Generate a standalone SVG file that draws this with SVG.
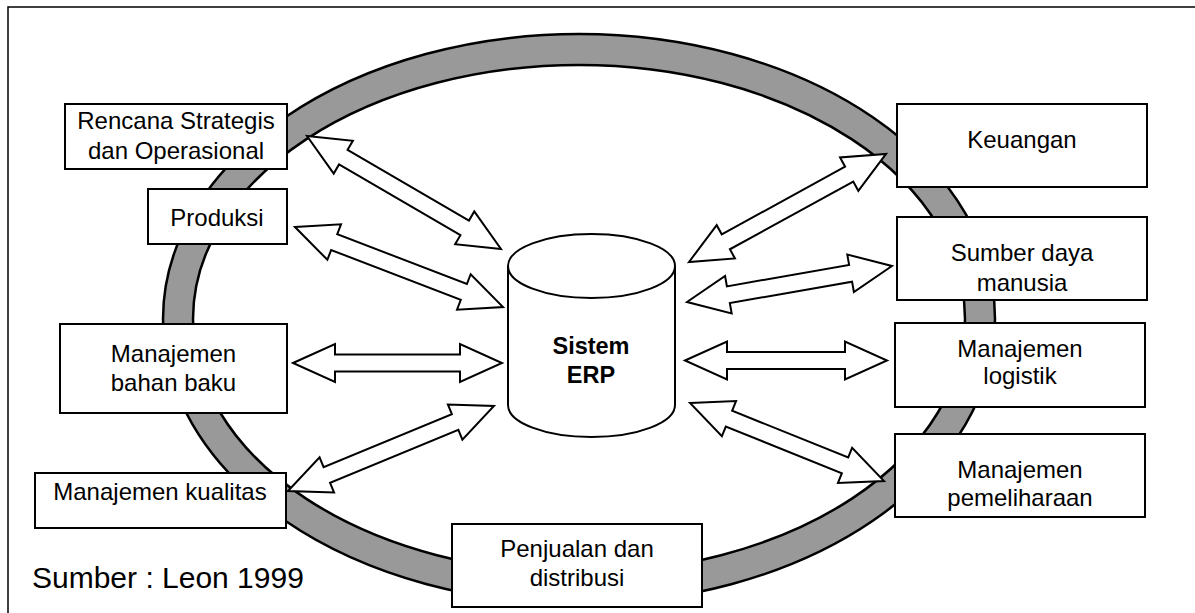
<svg xmlns="http://www.w3.org/2000/svg" width="1195" height="613" viewBox="0 0 1195 613">
  <style>
    .frame { fill: none; stroke: #000; stroke-width: 1.5; }
    .ring-outer { fill: #999999; stroke: #000; stroke-width: 2.5; }
    .ring-inner { fill: #fff; stroke: #000; stroke-width: 2.5; }
    .arrow { fill: #fff; stroke: #000; stroke-width: 2; stroke-linejoin: miter; }
    .box { fill: #fff; stroke: #000; stroke-width: 2; }
    .db { fill: #fff; stroke: #000; stroke-width: 2; }
    .label { font-family: "Liberation Sans", Arial, sans-serif; font-size: 24px; fill: #000; text-anchor: middle; }
    .bold { font-weight: bold; font-size: 23.5px; }
    .source { font-family: "Liberation Sans", Arial, sans-serif; font-size: 30px; fill: #000; }
  </style>

  <!-- outer frame (continues past the right and bottom edges) -->
  <rect class="frame" x="8" y="7" width="1200" height="620"/>

  <!-- business process ring -->
  <g id="ring">
    <ellipse class="ring-outer" cx="579" cy="319" rx="416" ry="285"/>
    <ellipse class="ring-inner" cx="579" cy="319" rx="386" ry="254"/>
  </g>

  <!-- two-way block arrows between the modules and the ERP core -->
  <g id="connectors">
    <polygon class="arrow" transform="translate(307,136) rotate(30.22)" points="0,0 42,-19 42,-8.5 182.5,-8.5 182.5,-19 224.5,0 182.5,19 182.5,8.5 42,8.5 42,19"/>
    <polygon class="arrow" transform="translate(295,227) rotate(21.04)" points="0,0 42,-19 42,-8.5 180.9,-8.5 180.9,-19 222.9,0 180.9,19 180.9,8.5 42,8.5 42,19"/>
    <polygon class="arrow" transform="translate(293,363)" points="0,0 42,-19 42,-8.5 167,-8.5 167,-19 209,0 167,19 167,8.5 42,8.5 42,19"/>
    <polygon class="arrow" transform="translate(288,491) rotate(-22.42)" points="0,0 42,-19 42,-8.5 180.8,-8.5 180.8,-19 222.8,0 180.8,19 180.8,8.5 42,8.5 42,19"/>
    <polygon class="arrow" transform="translate(689,262) rotate(-28.74)" points="0,0 42,-19 42,-8.5 182.7,-8.5 182.7,-19 224.7,0 182.7,19 182.7,8.5 42,8.5 42,19"/>
    <polygon class="arrow" transform="translate(687,302) rotate(-9.96)" points="0,0 42,-19 42,-8.5 166.1,-8.5 166.1,-19 208.1,0 166.1,19 166.1,8.5 42,8.5 42,19"/>
    <polygon class="arrow" transform="translate(685,360.5)" points="0,0 42,-19 42,-8.5 160,-8.5 160,-19 202,0 160,19 160,8.5 42,8.5 42,19"/>
    <polygon class="arrow" transform="translate(690,403) rotate(21.9)" points="0,0 42,-19 42,-8.5 167.1,-8.5 167.1,-19 209.1,0 167.1,19 167.1,8.5 42,8.5 42,19"/>
  </g>

  <!-- ERP database cylinder -->
  <g id="erp">
    <path class="db" d="M508,266 V405 A83.5,32 0 0 0 675,405 V266"/>
    <ellipse class="db" cx="591.5" cy="266" rx="83.5" ry="32"/>
    <text class="label bold" x="591" y="354">Sistem</text>
    <text class="label bold" x="591" y="383">ERP</text>
  </g>

  <!-- left-hand modules -->
  <g id="rencana">
    <rect class="box" x="65" y="104" width="222" height="65"/>
    <text class="label" x="176" y="129">Rencana Strategis</text>
    <text class="label" x="176" y="159">dan Operasional</text>
  </g>
  <g id="produksi">
    <rect class="box" x="148" y="189" width="139" height="55"/>
    <text class="label" x="217" y="226">Produksi</text>
  </g>
  <g id="bahan-baku">
    <rect class="box" x="60" y="324" width="227" height="89"/>
    <text class="label" x="173.5" y="362">Manajemen</text>
    <text class="label" x="173.5" y="391">bahan baku</text>
  </g>
  <g id="kualitas">
    <rect class="box" x="35" y="473" width="251" height="55"/>
    <text class="label" x="160" y="500">Manajemen kualitas</text>
  </g>

  <!-- bottom module -->
  <g id="penjualan">
    <rect class="box" x="452" y="524" width="250" height="83"/>
    <text class="label" x="577" y="557">Penjualan dan</text>
    <text class="label" x="577" y="586">distribusi</text>
  </g>

  <!-- right-hand modules -->
  <g id="keuangan">
    <rect class="box" x="897" y="104" width="250" height="83"/>
    <text class="label" x="1022" y="148">Keuangan</text>
  </g>
  <g id="sdm">
    <rect class="box" x="897" y="217" width="250" height="83"/>
    <text class="label" x="1022" y="261">Sumber daya</text>
    <text class="label" x="1022" y="291">manusia</text>
  </g>
  <g id="logistik">
    <rect class="box" x="895" y="323" width="250" height="84"/>
    <text class="label" x="1020" y="357">Manajemen</text>
    <text class="label" x="1020" y="384">logistik</text>
  </g>
  <g id="pemeliharaan">
    <rect class="box" x="895" y="434" width="250" height="83"/>
    <text class="label" x="1020" y="478">Manajemen</text>
    <text class="label" x="1020" y="506">pemeliharaan</text>
  </g>

  <text class="source" x="32" y="588">Sumber : Leon 1999</text>
</svg>
